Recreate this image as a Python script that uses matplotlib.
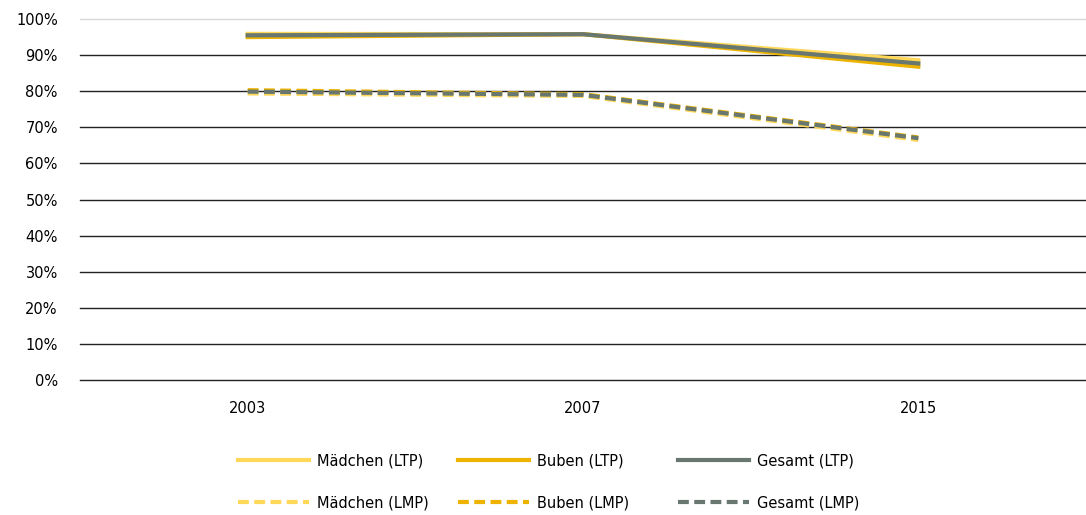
import numpy as np
import matplotlib.pyplot as plt

years = ["2003", "2007", "2015"]
maedchen_ltp = [95.9, 95.8, 88.6]
buben_ltp = [95.0, 95.8, 86.8]
gesamt_ltp = [95.5, 95.8, 87.7]
maedchen_lmp = [79.4, 78.7, 66.5]
buben_lmp = [80.3, 79.2, 67.2]
gesamt_lmp = [79.9, 79.0, 67.0]

c_m = "#FFD85A"
c_b = "#EDB300"
c_g = "#68776F"
fs = 10.5

fig = plt.figure(figsize=(10.86, 5.15), dpi=100)
ax = fig.add_axes([0.0737, 0.262, 0.9263, 0.701])
x = np.arange(len(years))
dash = (0, (2.6, 1.3))

l1, = ax.plot(x, maedchen_ltp, color=c_m, lw=3.0, label="Mädchen (LTP)", zorder=3)
l2, = ax.plot(x, buben_ltp, color=c_b, lw=3.0, label="Buben (LTP)", zorder=3)
l3, = ax.plot(x, gesamt_ltp, color=c_g, lw=3.0, label="Gesamt (LTP)", zorder=4)
l4, = ax.plot(x, maedchen_lmp, color=c_m, lw=3.0, ls=dash, label="Mädchen (LMP)", zorder=3)
l5, = ax.plot(x, buben_lmp, color=c_b, lw=3.0, ls=dash, label="Buben (LMP)", zorder=3)
l6, = ax.plot(x, gesamt_lmp, color=c_g, lw=3.0, ls=dash, label="Gesamt (LMP)", zorder=4)

ax.set_xlim(-0.5, 2.5)
ax.set_ylim(0, 100)
yt = np.arange(0, 101, 10)
for v in yt:
    ax.axhline(v, color="#D9D9D9" if v == 100 else "#222222", lw=1.0, zorder=1, clip_on=False)
ax.set_yticks(yt)
ax.set_yticklabels([f"{v}%" for v in yt], fontsize=fs)
ax.set_xticks(x)
ax.set_xticklabels(years, fontsize=fs)
ax.tick_params(length=0)
ax.tick_params(axis="y", pad=16)
ax.tick_params(axis="x", pad=15)
for s in ax.spines.values():
    s.set_visible(False)

# one legend per column so the columns keep even widths
cols = [(l1, l4), (l2, l5), (l3, l6)]
xs = [238, 458, 678]
for (a, b), xp in zip(cols, xs):
    fig.legend([a, b], [a.get_label(), b.get_label()], loc="center left",
               bbox_to_anchor=(xp / 1086, 1 - 482 / 515), frameon=False,
               fontsize=fs, handlelength=4.9, handletextpad=0.55,
               labelspacing=1.85, borderpad=0, borderaxespad=0)

fig.savefig("out.png", dpi=100)
